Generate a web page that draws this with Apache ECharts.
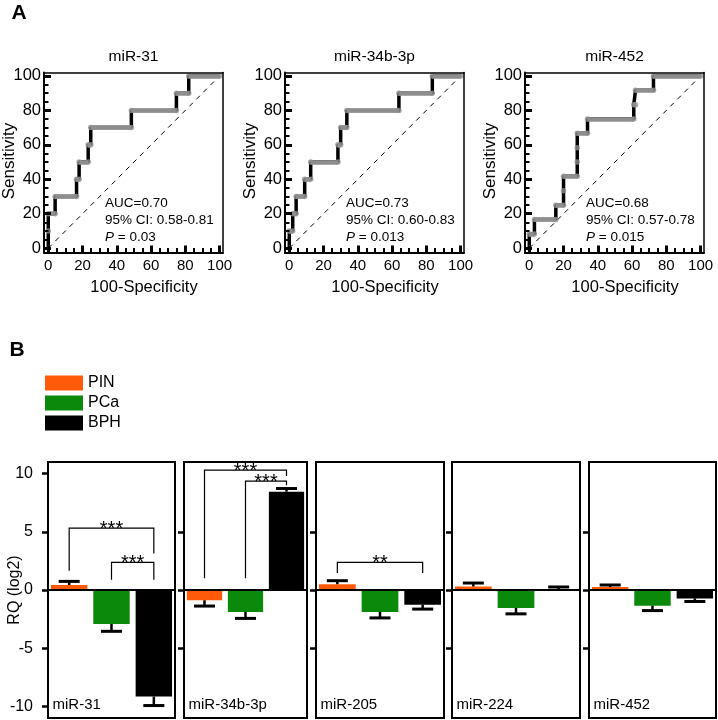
<!DOCTYPE html>
<html><head><meta charset="utf-8">
<script src="https://cdn.jsdelivr.net/npm/echarts@6/dist/echarts.min.js"></script>
<style>html,body{margin:0;padding:0;background:#fff}#c{width:718px;height:720px}</style>
</head><body><div id="c"></div>
<script>
// ---------- Panel A: ROC curves ----------
const rocNames = ['miR-31', 'miR-34b-3p', 'miR-452'];
const rocMiR31 = [[0,0],[0,10],[0,20],[4,20],[4,30],[16.5,30],[16.5,40],[18,40],[18,50],[23.3,50],[23.3,60],[24.8,60],[24.8,70],[48.5,70],[48.5,80],[74.8,80],[74.8,90],[82,90],[82,100],[100,100]];
const rocMiR34b = [[0,0],[0,10],[2,10],[2,20],[4,20],[4,30],[9,30],[9,40],[12.5,40],[12.5,50],[28.4,50],[28.4,60],[30,60],[30,70],[33.6,70],[33.6,80],[64,80],[64,90],[83.5,90],[83.5,100],[100,100]];
const rocMiR452 = [[0,0],[0,8.3],[3,8.3],[3,16.7],[15.5,16.7],[15.5,25],[20,25],[20,33.3],[20,41.7],[28,41.7],[28,50],[28,58.3],[28,66.7],[34,66.7],[34,75],[61,75],[61,83.3],[62,83.3],[62,91.7],[72.5,91.7],[72.5,100],[100,100]];
const rocCurves = [rocMiR31, rocMiR34b, rocMiR452];
const rocAUC = ['AUC=0.70', 'AUC=0.73', 'AUC=0.68'];
const rocCI = ['95% CI: 0.58-0.81', '95% CI: 0.60-0.83', '95% CI: 0.57-0.78'];
const rocP = ['0.03', '0.013', '0.015'];
const diagonal = [[0,0],[100,100]];
const rocTicks = [0, 20, 40, 60, 80, 100];
const rocMinorTicks = [0,5,10,15,20,25,30,35,40,45,50,55,60,65,70,75,80,85,90,95,100];

// ---------- Panel B: bar chart ----------
const groups = ['PIN', 'PCa', 'BPH'];
const panels = ['miR-31', 'miR-34b-3p', 'miR-205', 'miR-224', 'miR-452'];
const pinMean = [0.43, -0.88, 0.5, 0.3, 0.25];
const pinErr  = [0.31, 0.5, 0.3, 0.3, 0.18];
const pcaMean = [-2.92, -1.88, -1.88, -1.55, -1.35];
const pcaErr  = [0.63, 0.56, 0.52, 0.5, 0.42];
const bphMean = [-9.16, 8.45, -1.26, 0.08, -0.72];
const bphErr  = [0.77, 0.27, 0.38, 0.18, 0.27];
const rqTicks = [-10, -5, 0, 5, 10];
const rqInnerTicks = [-5, 0, 5];
// significance brackets
const brkPanel = [0, 0, 1, 1, 2];
const brkFrom  = [0.04, 1.09, 0, 1, 0];
const brkTo    = [2.12, 2.12, 2, 2, 2];
const brkTop   = [5.32, 2.37, 10.3, 9.36, 2.37];
const brkLeftEnd  = [1.66, 0.88, 1.0, 1.0, 1.46];
const brkRightEnd = [3.14, 0.88, 9.8, 9.0, 1.46];
const brkLabel = ['***', '***', '***', '***', '**'];

const FONT = 'Liberation Sans, Arial, sans-serif';
const colors = ['#ff5a0a', '#0a890a', '#000000'];
const means = [pinMean, pcaMean, bphMean];
const errs = [pinErr, pcaErr, bphErr];

const rocMin = -2.5, rocMax = 102;
const rocLeft = [44, 285, 525];
const rocTop = 72.5, rocW = 179, rocH = 180;
const rqMin = -11, rqMax = 11;
const barLeft = [48, 184, 316, 452, 589];
const barWidthPx = [127, 123, 128, 128, 127];
const barTop = 462, barH = 256;

const grid = [], xAxis = [], yAxis = [], series = [], graphic = [];

function seg(x1, y1, x2, y2, w) {
  return {type: 'line', shape: {x1: x1, y1: y1, x2: x2, y2: y2}, style: {stroke: '#000', lineWidth: w}};
}

// ROC grids 0..2; axes per grid: 3i = minor ticks, 3i+1 = main (line, major ticks, labels), 3i+2 = frame (top/right)
rocLeft.forEach((L, i) => {
  grid.push({left: L, top: rocTop, width: rocW, height: rocH, show: false});
  const common = {gridIndex: i, type: 'value', min: rocMin, max: rocMax, z: 6, splitLine: {show: false}};
  const minor = Object.assign({}, common, {
    axisLine: {show: false, onZero: false},
    axisTick: {show: true, inside: true, length: 4.5, lineStyle: {color: '#000', width: 2}, customValues: rocMinorTicks},
    axisLabel: {show: false}
  });
  const major = Object.assign({}, common, {
    axisLine: {show: true, onZero: false, lineStyle: {color: '#000', width: 2}},
    axisTick: {show: true, inside: true, length: 7, lineStyle: {color: '#000', width: 3}, customValues: rocTicks}
  });
  const frame = Object.assign({}, common, {
    axisLine: {show: true, onZero: false, lineStyle: {color: '#000', width: 1.5}},
    axisTick: {show: false}, axisLabel: {show: false}
  });
  xAxis.push(Object.assign({position: 'bottom', offset: 0}, minor));
  xAxis.push(Object.assign({position: 'bottom', offset: 0,
    axisLabel: {customValues: rocTicks, fontSize: 15, color: '#000', fontFamily: FONT, margin: 6}}, major));
  xAxis.push(Object.assign({position: 'top', offset: 0}, frame));
  yAxis.push(Object.assign({position: 'left', offset: 0}, minor));
  yAxis.push(Object.assign({position: 'left', offset: 0,
    axisLabel: {customValues: rocTicks, fontSize: 16.5, color: '#000', fontFamily: FONT, margin: 3}}, major));
  yAxis.push(Object.assign({position: 'right', offset: 0}, frame));

  const ai = 3 * i + 1;
  const roc = rocCurves[i];
  series.push({type: 'line', xAxisIndex: ai, yAxisIndex: ai, data: diagonal, symbol: 'none', silent: true,
    lineStyle: {color: '#000', width: 1, type: [5, 5]}, z: 2});
  series.push({type: 'line', xAxisIndex: ai, yAxisIndex: ai, data: roc, symbol: 'none', silent: true,
    lineStyle: {color: '#000', width: 3.5}, z: 3});
  const segs = [];
  for (let k = 0; k < roc.length - 1; k++) {
    if (roc[k][1] === roc[k + 1][1] && roc[k][0] !== roc[k + 1][0]) segs.push({coords: [roc[k], roc[k + 1]]});
  }
  series.push({type: 'lines', coordinateSystem: 'cartesian2d', xAxisIndex: ai, yAxisIndex: ai, data: segs, silent: true,
    lineStyle: {color: '#8e8e8e', width: 4.5, opacity: 1}, z: 4});
  series.push({type: 'scatter', xAxisIndex: ai, yAxisIndex: ai, data: roc, symbol: 'circle', symbolSize: 5.5, silent: true,
    itemStyle: {color: '#8e8e8e'}, z: 5});

  graphic.push({type: 'text', x: L + 89.5, y: 57, style: {text: rocNames[i], fontSize: 15.5, fontFamily: FONT, fill: '#000', align: 'center', verticalAlign: 'middle'}});
  graphic.push({type: 'text', x: L - 34.5, y: 161, rotation: Math.PI / 2, style: {text: 'Sensitivity', fontSize: 17, fontFamily: FONT, fill: '#000', align: 'center', verticalAlign: 'middle'}});
  graphic.push({type: 'text', x: L + 100, y: 287, style: {text: '100-Specificity', fontSize: 16.5, fontFamily: FONT, fill: '#000', align: 'center', verticalAlign: 'middle'}});
  graphic.push({type: 'text', x: L + 61, y: 203, style: {text: rocAUC[i], fontSize: 13.5, fontFamily: FONT, fill: '#000', align: 'left', verticalAlign: 'middle'}});
  graphic.push({type: 'text', x: L + 61, y: 220, style: {text: rocCI[i], fontSize: 13.5, fontFamily: FONT, fill: '#000', align: 'left', verticalAlign: 'middle'}});
  graphic.push({type: 'text', x: L + 61, y: 237, style: {text: '{i|P}{n| = ' + rocP[i] + '}', align: 'left', verticalAlign: 'middle',
    rich: {i: {fontSize: 13.5, fontFamily: FONT, fontStyle: 'italic', fill: '#000'}, n: {fontSize: 13.5, fontFamily: FONT, fill: '#000'}}}});
});

// bar grids 3..7; axes index 9..13
panels.forEach((name, j) => {
  const gi = 3 + j, ai = 9 + j;
  grid.push({left: barLeft[j], top: barTop, width: barWidthPx[j], height: barH, show: true, borderColor: '#000', borderWidth: 2, backgroundColor: 'transparent'});
  xAxis.push({gridIndex: gi, type: 'category', data: groups, z: 5,
    axisLine: {show: true, onZero: true, lineStyle: {color: '#000', width: 2}},
    axisTick: {show: false}, axisLabel: {show: false}, splitLine: {show: false}});
  yAxis.push({gridIndex: gi, type: 'value', min: rqMin, max: rqMax, z: 5, splitLine: {show: false},
    axisLine: {show: true, lineStyle: {color: '#000', width: 2}},
    axisTick: {show: true, inside: false, length: 6, lineStyle: {color: '#000', width: 2.5}, customValues: j === 0 ? rqTicks : rqInnerTicks},
    axisLabel: {show: j === 0, customValues: rqTicks, fontSize: 16, color: '#000', fontFamily: FONT, margin: 15}});

  groups.forEach((g, k) => {
    series.push({type: 'bar', name: g, xAxisIndex: ai, yAxisIndex: ai,
      data: groups.map((_, c) => c === k ? means[k][j] : '-'),
      barWidth: '86%', barGap: '-100%', itemStyle: {color: colors[k]}, z: 2, silent: true});
  });
  series.push({type: 'custom', xAxisIndex: ai, yAxisIndex: ai, silent: true, z: 6,
    data: groups.map((_, k) => [k, means[k][j], errs[k][j]]),
    renderItem: function (params, api) {
      const x = api.value(0), m = api.value(1), e = api.value(2);
      const dir = m >= 0 ? 1 : -1;
      const p0 = api.coord([x, m]);
      const p1 = api.coord([x, m + dir * e]);
      const half = 10.5;
      return {type: 'group', children: [
        seg(p0[0], p0[1], p1[0], p1[1], 2.5),
        seg(p1[0] - half, p1[1], p1[0] + half, p1[1], 3)
      ]};
    }});
  const idxs = [];
  brkPanel.forEach((p, b) => { if (p === j) idxs.push(b); });
  if (idxs.length) {
    series.push({type: 'custom', xAxisIndex: ai, yAxisIndex: ai, silent: true, z: 7,
      data: idxs.map(b => [brkFrom[b], brkTop[b], b]),
      renderItem: function (params, api) {
        const b = api.value(2);
        const pL = api.coord([brkFrom[b], brkLeftEnd[b]]);
        const pTL = api.coord([brkFrom[b], brkTop[b]]);
        const pTR = api.coord([brkTo[b], brkTop[b]]);
        const pR = api.coord([brkTo[b], brkRightEnd[b]]);
        return {type: 'group', children: [
          {type: 'polyline', shape: {points: [pL, pTL, pTR, pR]}, style: {stroke: '#000', lineWidth: 1.2, fill: null}},
          {type: 'text', style: {text: brkLabel[b], x: (pTL[0] + pTR[0]) / 2, y: pTL[1] + 1, align: 'center', verticalAlign: 'middle',
            fontSize: 20, fontFamily: FONT, fill: '#000'}}
        ]};
      }});
  }
  graphic.push({type: 'text', x: barLeft[j] + 4.5, y: 705, style: {text: name, fontSize: 15, fontFamily: FONT, fill: '#000', align: 'left', verticalAlign: 'middle'}});
});

graphic.push({type: 'text', x: 19, y: 13, style: {text: 'A', fontSize: 21, fontWeight: 'bold', fontFamily: FONT, fill: '#000', align: 'center', verticalAlign: 'middle'}});
graphic.push({type: 'text', x: 17, y: 350, style: {text: 'B', fontSize: 21, fontWeight: 'bold', fontFamily: FONT, fill: '#000', align: 'center', verticalAlign: 'middle'}});
graphic.push({type: 'text', x: 15, y: 590, rotation: Math.PI / 2, style: {text: 'RQ (log2)', fontSize: 16, fontFamily: FONT, fill: '#000', align: 'center', verticalAlign: 'middle'}});

const chart = echarts.init(document.getElementById('c'), null, {renderer: 'canvas'});
chart.setOption({
  animation: false,
  backgroundColor: '#fff',
  grid: grid, xAxis: xAxis, yAxis: yAxis, series: series,
  legend: {data: groups, orient: 'vertical', left: 45, top: 375, itemWidth: 38, itemHeight: 15, itemGap: 4, icon: 'rect',
    padding: 0, selectedMode: false, textStyle: {fontSize: 16, color: '#000', fontFamily: FONT, lineHeight: 15}},
  graphic: graphic
});
</script></body></html>
